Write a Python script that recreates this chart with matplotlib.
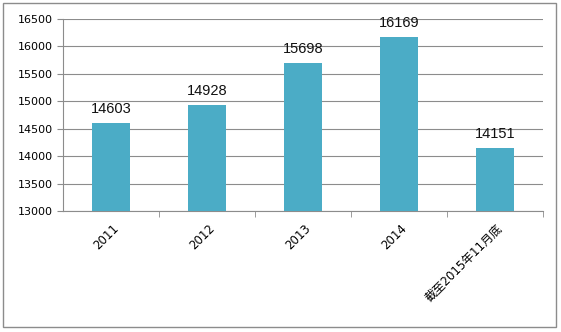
import matplotlib
matplotlib.use("Agg")
import matplotlib.pyplot as plt
import matplotlib.transforms as mtrans
from matplotlib.patches import Rectangle

plt.rcParams['font.family'] = ['DejaVu Sans', 'Noto Sans CJK SC']

categories = ["2011", "2012", "2013", "2014", "截至2015年11月底"]
values = [14603, 14928, 15698, 16169, 14151]

fig = plt.figure(figsize=(5.61, 3.32), dpi=100)
fig.patches.append(Rectangle((3 / 561, 5 / 332), 553 / 561, 324 / 332,
                             transform=fig.transFigure, fill=False,
                             edgecolor="#8c8c8c", linewidth=1.0))
ax = fig.add_axes([63 / 561, 1 - 211 / 332, 480 / 561, 192 / 332])

x = range(len(categories))
ax.bar(x, values, width=0.39, color="#4bacc6", zorder=3)
for xi, v in zip(x, values):
    ax.annotate(str(v), (xi, v), xytext=(0, 5), textcoords="offset points",
                ha="center", va="bottom", fontsize=10.5, color="#111111",
                family=["Liberation Sans"])

ax.set_xlim(-0.5, len(categories) - 0.5)
ax.set_ylim(13000, 16500)
ax.set_yticks(range(13000, 16501, 500))
ax.tick_params(axis="y", labelsize=8, length=4, color="#8c8c8c", pad=3)
ax.yaxis.grid(True, color="#8c8c8c", linewidth=0.8, zorder=0)
ax.set_xticks([i + 0.5 for i in range(len(categories) - 1)] + [len(categories) - 0.5], minor=True)
ax.set_xticks(list(x))
ax.set_xticklabels(categories, rotation=45, ha="right", rotation_mode="anchor", fontsize=8.5)
ax.tick_params(axis="x", which="major", length=0, pad=8)
ax.tick_params(axis="x", which="minor", length=4, color="#8c8c8c")
shift = mtrans.ScaledTranslation(1 / 100, 0, fig.dpi_scale_trans)
for lab in ax.get_xticklabels():
    lab.set_transform(lab.get_transform() + shift)
for s in ["top", "right"]:
    ax.spines[s].set_visible(False)
ax.spines["left"].set_color("#8c8c8c")
ax.spines["bottom"].set_color("#8c8c8c")

fig.savefig("out.png", dpi=100)
